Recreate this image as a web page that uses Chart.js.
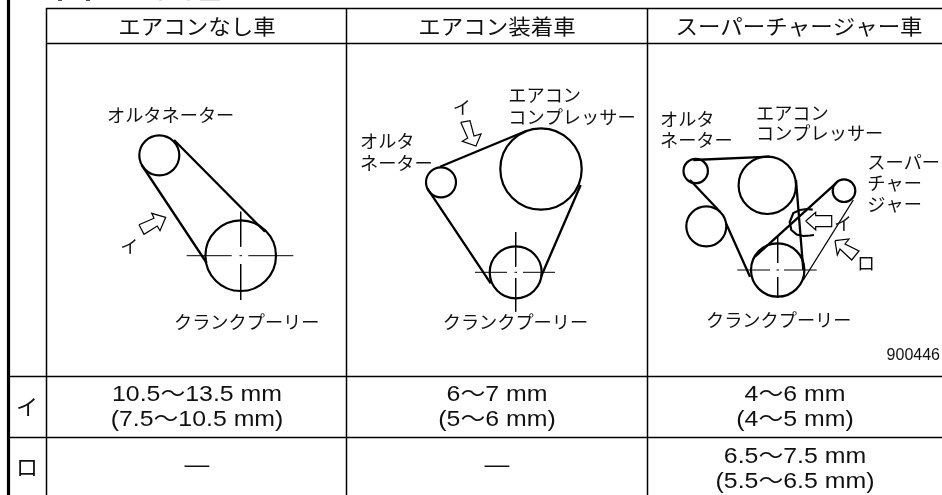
<!DOCTYPE html>
<html lang="ja">
<head>
<meta charset="utf-8">
<title>ベルト張り調整値</title>
<script src="https://cdn.jsdelivr.net/npm/chart.js@4/dist/chart.umd.min.js"></script>
<style>
    html, body { margin: 0; padding: 0; background: #fff; overflow: hidden; }
    canvas { display: block; }
</style>
</head>
<body>
<canvas id="belt-chart" width="942" height="495"></canvas>
<script>
// ============================================================
// 1. DATA, in picture units
// ============================================================

// Table text
const columnHeaders = ['エアコンなし車', 'エアコン装着車', 'スーパーチャージャー車'];
const headerCentres = [197, 497, 799];
const rowNames = ['イ', 'ロ'];
const rowCentres = [406.7, 467];
const cellCentres = [197, 497, 795];
const cellRowOne = ['10.5〜13.5 mm', '6〜7 mm', '4〜6 mm'];
const cellRowOneSub = ['(7.5〜10.5 mm)', '(5〜6 mm)', '(4〜5 mm)'];
const cellRowTwo = ['—', '—', '6.5〜7.5 mm'];
const cellRowTwoSub = ['', '', '(5.5〜6.5 mm)'];

// Table rules, null breaks the line
const ruleX = [46, 942, null, 46, 942, null, 8, 942, null, 8, 942, null, 46.5, 46.5, null, 346.5, 346.5, null, 647.5, 647.5];
const ruleY = [8.5, 8.5, null, 43.5, 43.5, null, 376.5, 376.5, null, 437.5, 437.5, null, 8, 495, null, 8, 495, null, 8, 495];
const sideBarX = [8.5, 8.5];
const sideBarY = [0, 495];

// Bottom edge of the title that the crop cuts off
const clippedTitleDarkX = [58, 62, null, 86, 90];
const clippedTitleDarkY = [0.5, 0.5, null, 0.5, 0.5];
const clippedTitleGreyX = [159, 162, null, 187, 190, null, 200, 220];
const clippedTitleGreyY = [0.5, 0.5, null, 0.5, 0.5, null, 0.5, 0.5];

// Pulleys
const pulleyX = [159.3, 240.7, 441, 541, 515.7, 695.7, 767.3, 706.3, 844, 777.7];
const pulleyY = [155.3, 255.7, 182.3, 169, 272.3, 171, 185.3, 226.3, 190.7, 270];
const pulleyR = [20, 35.3, 15, 40.7, 26, 12.2, 28.7, 20, 11.3, 26.7];

// Tensioner arc on the supercharger layout (open on the right)
const arcX = [812.7, 806.7, 800, 793.3, 789.7, 791.3, 796.7, 803.3, 810, 814];
const arcY = [209.7, 209, 210, 213, 222, 230, 234.5, 236, 235.5, 235];

// Belts
const beltX = [174, 265, null, 141.7, 206.7, null, 440, 526.7, null, 580.7, 541, null, 427.3, 490.7, null,
    693.3, 770, null, 796, 803.3, null, 690, 720, null, 726, 750, null, 755, 836.7];
const beltY = [140, 231.7, null, 165, 263, null, 166.7, 130.7, null, 185, 276.7, null, 188.3, 283.3, null,
    160, 156.7, null, 180, 270, null, 180, 211.7, null, 223.3, 276.7, null, 256.7, 182.7];
const thinBeltX = [803.3, 853.3];
const thinBeltY = [280, 200];

// Centre lines of the crank pulleys
const centreLineX = [186.7, 231.7, null, 239.5, 242, null, 248.3, 293.3, null, 240.7, 240.7, null, 240.7, 240.7, null,
    475, 507, null, 514.5, 517, null, 523, 555, null, 515.7, 515.7, null, 515.7, 515.7, null,
    737.3, 770, null, 776.5, 779, null, 784, 816.7, null, 777.7, 777.7, null, 777.7, 777.7];
const centreLineY = [255.7, 255.7, null, 255.7, 255.7, null, 255.7, 255.7, null, 211.7, 246.7, null, 264, 300, null,
    272.3, 272.3, null, 272.3, 272.3, null, 272.3, 272.3, null, 232, 266.7, null, 278, 311.7, null,
    270, 270, null, 270, 270, null, 270, 270, null, 235, 263, null, 277, 298];

// Measuring arrows
const arrowOneX = [139, 154, 151.7, 165.7, 160, 157.3, 144, 139];
const arrowOneY = [224.7, 218.3, 213.3, 217.3, 230.7, 226, 234.3, 224.7];
const arrowTwoX = [460.7, 470, 474, 481, 476, 462.3, 467.7, 460.7];
const arrowTwoY = [122.3, 120.7, 136, 134, 146, 141.3, 138, 122.3];
const arrowThreeX = [805.7, 815.7, 815.7, 831.7, 831.7, 815.7, 815.7, 805.7];
const arrowThreeY = [221, 212.3, 215.7, 215.7, 226.7, 226.7, 230, 221];
const arrowFourX = [835, 849, 845, 859, 851.7, 840, 837.3, 835];
const arrowFourY = [240.7, 239, 244, 251, 260, 249, 255, 240.7];

// Diagram labels
const labelTexts = ['オルタネーター', 'クランクプーリー',
    'エアコン', 'コンプレッサー', 'オルタ', 'ネーター', 'クランクプーリー',
    'オルタ', 'ネーター', 'エアコン', 'コンプレッサー', 'スーパー', 'チャー', 'ジャー', 'クランクプーリー'];
const labelX = [107, 174, 508.3, 508.3, 360, 360, 442.7, 660, 660, 756, 756, 867.3, 867.3, 867.3, 706];
const labelY = [115, 321.7, 95, 116.7, 141, 163.3, 321.7, 119.3, 140, 112.7, 133.3, 161.7, 182.7, 204, 320];
const calloutTexts = ['イ', 'イ', 'イ', 'ロ'];
const calloutX = [129.3, 461.7, 843, 866];
const calloutY = [245.7, 107.3, 222.7, 263.3];
const figureNumber = '900446';

// ============================================================
// 2. UTILITY
// ============================================================
const zip = (xs, ys) => xs.map((x, i) => ({ x: x, y: ys[i] }));
const JP_FONT = '"Noto Sans CJK JP", "Liberation Sans", sans-serif';
const CELL_FONT = '"Liberation Sans", "Noto Sans CJK JP", sans-serif';
const TEXT_COLOR = '#111';

function lineSet(points, width, order, color) {
    return {
        type: 'line',
        data: points,
        borderColor: color || '#000',
        borderWidth: width,
        pointRadius: 0,
        tension: 0,
        fill: false,
        spanGaps: false,
        order: order
    };
}

function arrowSet(xs, ys) {
    return {
        type: 'line',
        data: zip(xs, ys),
        borderColor: '#000',
        borderWidth: 1.2,
        backgroundColor: '#fff',
        pointRadius: 0,
        tension: 0,
        fill: 'shape',
        order: 1
    };
}

// ============================================================
// 3. TEXT — real text placed through the chart's scales
// ============================================================
const tableText = {
    id: 'tableText',
    afterDatasetsDraw(chart) {
        const ctx = chart.ctx;
        const sx = chart.scales.x;
        const sy = chart.scales.y;

        function put(text, x, y, font, align, stretch) {
            if (!text) return;
            ctx.save();
            ctx.translate(sx.getPixelForValue(x), sy.getPixelForValue(y));
            ctx.scale(stretch, 1);
            ctx.font = font;
            ctx.fillStyle = TEXT_COLOR;
            ctx.textAlign = align;
            ctx.textBaseline = 'middle';
            ctx.fillText(text, 0, 0);
            ctx.restore();
        }

        const cellFont = `22px ${CELL_FONT}`;
        columnHeaders.forEach((t, i) => put(t, headerCentres[i], 26.5, `21px ${JP_FONT}`, 'center', 1.07));
        rowNames.forEach((t, i) => put(t, 27, rowCentres[i], `22px ${JP_FONT}`, 'center', 1));
        cellRowOne.forEach((t, i) => put(t, cellCentres[i], 394.5, cellFont, 'center', 1.13));
        cellRowOneSub.forEach((t, i) => put(t, cellCentres[i], 419.5, cellFont, 'center', 1.13));
        cellRowTwo.forEach((t, i) => put(t, cellCentres[i], i < 2 ? 466 : 456.5, cellFont, 'center', 1.13));
        cellRowTwoSub.forEach((t, i) => put(t, cellCentres[i], 481.5, cellFont, 'center', 1.13));
        labelTexts.forEach((t, i) => put(t, labelX[i], labelY[i], `18px ${JP_FONT}`, 'left', 1.01));
        calloutTexts.forEach((t, i) => put(t, calloutX[i], calloutY[i], `18px ${JP_FONT}`, 'center', 1));
        put(figureNumber, 940, 356, `16px ${CELL_FONT}`, 'right', 1);
    }
};

// ============================================================
// 4. CHART
// ============================================================
new Chart(document.getElementById('belt-chart'), {
    data: {
        datasets: [
            arrowSet(arrowOneX, arrowOneY),
            arrowSet(arrowTwoX, arrowTwoY),
            arrowSet(arrowThreeX, arrowThreeY),
            arrowSet(arrowFourX, arrowFourY),
            lineSet(zip(ruleX, ruleY), 1.5, 5),
            lineSet(zip(sideBarX, sideBarY), 3.2, 5),
            lineSet(zip(clippedTitleDarkX, clippedTitleDarkY), 1, 5, '#555'),
            lineSet(zip(clippedTitleGreyX, clippedTitleGreyY), 1, 5, '#ddd'),
            lineSet(zip(beltX, beltY), 2.3, 3),
            lineSet(zip(thinBeltX, thinBeltY), 1.3, 3),
            lineSet(zip(centreLineX, centreLineY), 1, 4),
            lineSet(zip(arcX, arcY), 2.2, 3),
            {
                type: 'bubble',
                data: pulleyX.map((x, i) => ({ x: x, y: pulleyY[i], r: pulleyR[i] })),
                borderColor: '#000',
                borderWidth: 2.2,
                backgroundColor: 'rgba(0,0,0,0)',
                order: 3
            }
        ]
    },
    options: {
        responsive: false,
        animation: false,
        events: [],
        layout: { padding: 0, autoPadding: false },
        plugins: { legend: { display: false }, tooltip: { enabled: false } },
        scales: {
            x: { type: 'linear', min: 0, max: 942, display: false },
            y: { type: 'linear', min: 0, max: 495, reverse: true, display: false }
        }
    },
    plugins: [tableText]
});
</script>
</body>
</html>
